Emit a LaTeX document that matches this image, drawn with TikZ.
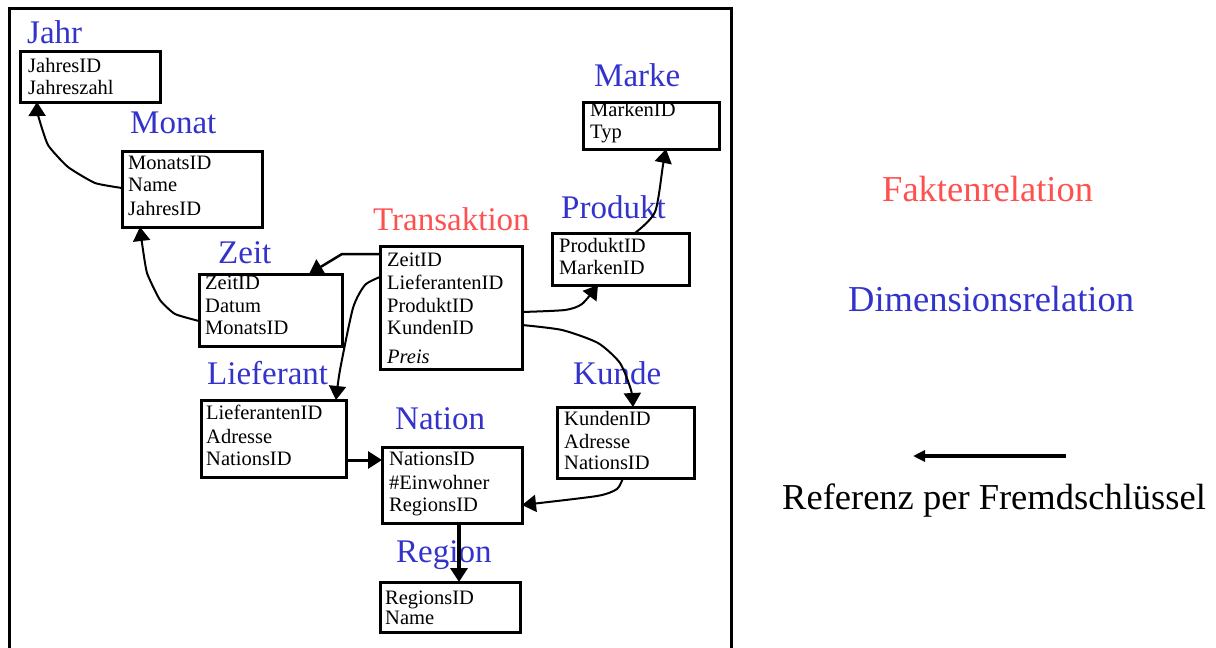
\documentclass[tikz,border=0pt]{standalone}
\usepackage{fontspec}
\setmainfont{Liberation Serif}
\usetikzlibrary{arrows.meta}
\definecolor{dimblue}{RGB}{51,51,204}
\definecolor{factred}{RGB}{255,80,80}
\tikzset{
  tbl/.style={draw=black, line width=3pt, inner sep=0pt, outer sep=0pt, anchor=north west},
  row/.style={inner sep=0pt, anchor=base west, font=\fontsize{20.5}{23}\selectfont},
  dimlabel/.style={inner sep=0pt, anchor=base west, text=dimblue, font=\fontsize{33}{36}\selectfont},
  factlabel/.style={inner sep=0pt, anchor=base west, text=factred, font=\fontsize{33}{36}\selectfont},
  legtext/.style={inner sep=0pt, anchor=base west, font=\fontsize{36.5}{40}\selectfont},
  conn/.style={line width=2pt, line join=round, -{Triangle[length=14pt,width=17pt]}},
}
\begin{document}
\begin{tikzpicture}[x=1pt,y=-1pt]
\useasboundingbox (0,0) rectangle (1216,648);
% outer frame
\draw[line width=3pt] (9,648) -- (9,8) -- (731,8) -- (731,648);

% boxes
\node[tbl, minimum width=140, minimum height=51] (jahr) at (20,51) {};
\node[tbl, minimum width=140, minimum height=76] (monat) at (122,151) {};
\node[tbl, minimum width=143, minimum height=72] (zeit) at (199,274) {};
\node[tbl, minimum width=142, minimum height=123] (trans) at (380,246) {};
\node[tbl, minimum width=137, minimum height=52] (produkt) at (552,233) {};
\node[tbl, minimum width=136, minimum height=47] (marke) at (583,102) {};
\node[tbl, minimum width=145, minimum height=77] (lief) at (201,400) {};
\node[tbl, minimum width=140, minimum height=76] (nation) at (382,447) {};
\node[tbl, minimum width=137, minimum height=71] (kunde) at (557,407) {};
\node[tbl, minimum width=140, minimum height=50] (region) at (380,582) {};

% labels
\node[dimlabel] (ljahr) at (27,43) {Jahr};
\node[dimlabel] (lmonat) at (130,133) {Monat};
\node[dimlabel] (lzeit) at (218,263) {Zeit};
\node[factlabel] (ltrans) at (373,230) {Transaktion};
\node[dimlabel] (lmarke) at (594,86) {Marke};
\node[dimlabel] (lprodukt) at (561,218) {Produkt};
\node[dimlabel] (llief) at (207,384) {Lieferant};
\node[dimlabel] (lnation) at (395,429) {Nation};
\node[dimlabel] (lkunde) at (573,384) {Kunde};
\node[dimlabel] (lregion) at (396,562) {Region};

% rows
\node[row] (j1) at (28,72) {JahresID};
\node[row] (j2) at (28,94) {Jahreszahl};
\node[row] (m1) at (128,169) {MonatsID};
\node[row] (m2) at (128,191) {Name};
\node[row] (m3) at (128,215) {JahresID};
\node[row] (z1) at (205,289) {ZeitID};
\node[row] (z2) at (205,312) {Datum};
\node[row] (z3) at (205,334) {MonatsID};
\node[row] (t1) at (387,266) {ZeitID};
\node[row] (t2) at (387,289) {LieferantenID};
\node[row] (t3) at (387,312) {ProduktID};
\node[row] (t4) at (387,334) {KundenID};
\node[row] (t5) at (387,363) {\itshape Preis};
\node[row] (p1) at (559,252) {ProduktID};
\node[row] (p2) at (559,274) {MarkenID};
\node[row] (mk1) at (590,116) {MarkenID};
\node[row] (mk2) at (590,138) {Typ};
\node[row] (l1) at (206,419) {LieferantenID};
\node[row] (l2) at (206,443) {Adresse};
\node[row] (l3) at (206,465) {NationsID};
\node[row] (n1) at (389,465) {NationsID};
\node[row] (n2) at (389,489) {\#Einwohner};
\node[row] (n3) at (389,511) {RegionsID};
\node[row] (k1) at (564,425) {KundenID};
\node[row] (k2) at (564,448) {Adresse};
\node[row] (k3) at (564,469) {NationsID};
\node[row] (r1) at (385,604) {RegionsID};
\node[row] (r2) at (385,624) {Name};

% connectors
\draw[conn] plot[smooth, tension=0.3] coordinates {(monat.west |- 0,188) (95,183) (68,167) (48,145) (38,115) (jahr.south -| 37,0)};
\draw[conn] plot[smooth, tension=0.3] coordinates {(zeit.west |- 0,321) (175,314) (160,300) (147,273) (142,243) (monat.south -| 140,0)};
\draw[conn, line width=2.5pt] (trans.west |- 0,254) -- (342,254) -- (zeit.north -| 309,0);
\draw[conn] plot[smooth, tension=0.4] coordinates {(trans.west |- 0,277) (365,285) (353,308) (340,370) (lief.north -| 336,0)};
\draw[conn] plot[smooth, tension=0.4] coordinates {(trans.east |- 0,312) (565,310) (582,304) (produkt.south -| 598,0)};
\draw[conn] plot[smooth, tension=0.4] coordinates {(trans.east |- 0,325) (562,330) (598,343) (620,363) (631,390) (kunde.north -| 633,0)};
\draw[conn] plot[smooth, tension=0.45] coordinates {(produkt.north -| 635,0) (655,212) (663,165) (marke.south -| 666,0)};
\draw[conn, line width=3pt] (lief.east |- 0,460) -- (nation.west |- 0,460);
\draw[conn] plot[smooth, tension=0.4] coordinates {(kunde.south -| 623,0) (617,489) (597,496) (nation.east |- 0,505)};
\draw[conn, line width=4pt] (nation.south -| 459,0) -- (region.north -| 459,0);

% legend
\node[legtext, text=factred] (lfakt) at (882,201) {Faktenrelation};
\node[legtext, text=dimblue] (ldim) at (848,311) {Dimensionsrelation};
\coordinate (legA) at (1066,456);
\coordinate (legB) at (913,456);
\draw[line width=4pt, -{Triangle[length=12pt,width=11pt]}] (legA) -- (legB);
\node[legtext] (lref) at (782,509) {Referenz per Fremdschlüssel};
\end{tikzpicture}
\end{document}
